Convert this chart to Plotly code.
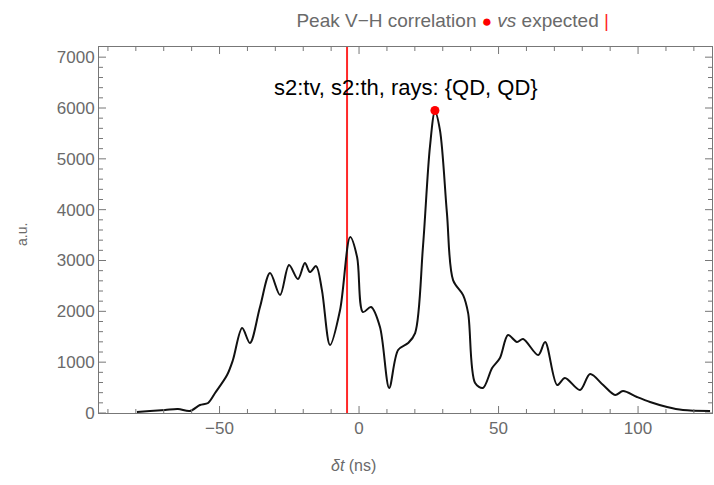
import plotly.graph_objects as go

# Correlation curve (δt in ns, amplitude in a.u.)
dt = [-79.6, -74.9, -69.5, -64.9, -60.6, -57.0, -54.1, -51.6, -47.3, -45.2,
      -41.9, -39.1, -35.5, -31.9, -28.3, -25.1, -21.9, -19.4, -17.6, -15.4,
      -13.3, -10.4, -6.8, -3.2, -0.7, 1.4, 4.3, 7.5, 10.8, 14.0,
      17.6, 20.1, 22.9, 25.4, 27.2, 29.0, 31.5, 33.7, 37.3, 39.1,
      41.6, 44.4, 47.7, 50.5, 53.4, 56.6, 58.8, 64.2, 66.7, 71.0,
      73.8, 79.2, 82.8, 87.5, 91.8, 94.6, 99.6, 104.3, 110.4, 116.1, 125.8]
amp = [20, 40, 60, 80, 40, 157, 197, 393, 747, 1042,
       1671, 1376, 2084, 2752, 2320, 2910, 2634, 2949, 2772, 2890,
       2418, 1337, 2025, 3460, 3067, 1986, 2084, 1691, 492, 1239,
       1376, 1573, 3264, 5230, 5930, 5564, 3932, 2615, 2320, 1966,
       590, 492, 885, 1081, 1533, 1396, 1455, 1140, 1396, 550,
       688, 452, 767, 550, 354, 432, 315, 216, 118, 59, 40]

peak_dt = [27.2]
peak_amp = [5950]
expected_dt = -4.3

x_range = [-93.2, 126.5]
y_range = [0, 7200]
x_major = [-50, 0, 50, 100]
y_major = [0, 1000, 2000, 3000, 4000, 5000, 6000, 7000]
x_minor = [v for v in range(-90, 130, 10) if v not in x_major]
y_minor = [v for v in range(200, 7200, 200) if v not in y_major]

font_family = "Liberation Sans, Arial, sans-serif"
gray = "#6a6a6a"
frame = "#777777"

fig = go.Figure()
fig.add_trace(go.Scatter(x=[expected_dt, expected_dt], y=y_range, mode="lines",
                         line=dict(color="rgb(255,40,40)", width=2), showlegend=False))
fig.add_trace(go.Scatter(x=dt, y=amp, mode="lines",
                         line=dict(color="#111111", width=2, shape="spline", smoothing=0.9),
                         showlegend=False))
fig.add_trace(go.Scatter(x=peak_dt, y=peak_amp, mode="markers",
                         marker=dict(color="red", size=9), showlegend=False))

# Frame tick marks (inside, on all four sides)
shapes = []
for vals, length in ((x_major, 7), (x_minor, 4)):
    for v in vals:
        shapes.append(dict(type="line", xref="x", yref="y", x0=v, x1=v, ysizemode="pixel",
                           yanchor=y_range[0], y0=0, y1=length, line=dict(color=frame, width=1)))
        shapes.append(dict(type="line", xref="x", yref="y", x0=v, x1=v, ysizemode="pixel",
                           yanchor=y_range[1], y0=0, y1=-length, line=dict(color=frame, width=1)))
for vals, length in ((y_major, 7), (y_minor, 4)):
    for v in vals:
        shapes.append(dict(type="line", xref="x", yref="y", y0=v, y1=v, xsizemode="pixel",
                           xanchor=x_range[0], x0=0, x1=length, line=dict(color=frame, width=1)))
        shapes.append(dict(type="line", xref="x", yref="y", y0=v, y1=v, xsizemode="pixel",
                           xanchor=x_range[1], x0=0, x1=-length, line=dict(color=frame, width=1)))

axis_style = dict(showline=True, linecolor=frame, mirror=True, ticks="",
                  showgrid=False, zeroline=False,
                  tickfont=dict(family=font_family, size=17, color=gray))

fig.update_layout(
    width=714, height=485,
    margin=dict(l=99, r=2, t=47, b=72),
    paper_bgcolor="white", plot_bgcolor="white",
    font=dict(family=font_family),
    xaxis=dict(range=x_range, tickvals=x_major, **axis_style),
    yaxis=dict(range=y_range, tickvals=y_major, **axis_style),
    shapes=shapes,
    title=dict(
        text="Peak V\u2212H correlation <span style='color:red;font-size:17px'>\u25CF</span> <i>vs</i> expected <span style='color:rgb(255,40,40)'>|</span>",
        xref="container", x=0.634, xanchor="center",
        yref="container", y=0.958, yanchor="middle",
        font=dict(family=font_family, size=19, color=gray)),
    annotations=[
        dict(text="s2:tv, s2:th, rays: {QD, QD}", xref="paper", yref="paper",
             x=0.5, y=(413 - 87) / 366, xanchor="center", yanchor="middle",
             showarrow=False, font=dict(family=font_family, size=22, color="black")),
        dict(text="a.u.", xref="paper", yref="paper", x=(22 - 99) / 613, y=(413 - 235) / 366,
             xanchor="center", yanchor="middle", textangle=-90, showarrow=False,
             font=dict(family=font_family, size=14, color=gray)),
        dict(text="<i>\u03B4t</i> (ns)", xref="paper", yref="paper", x=(353 - 99) / 613,
             y=-(465 - 413) / 366, xanchor="center", yanchor="middle", showarrow=False,
             font=dict(family=font_family, size=16, color=gray)),
    ],
)

fig.write_html("out.html")
